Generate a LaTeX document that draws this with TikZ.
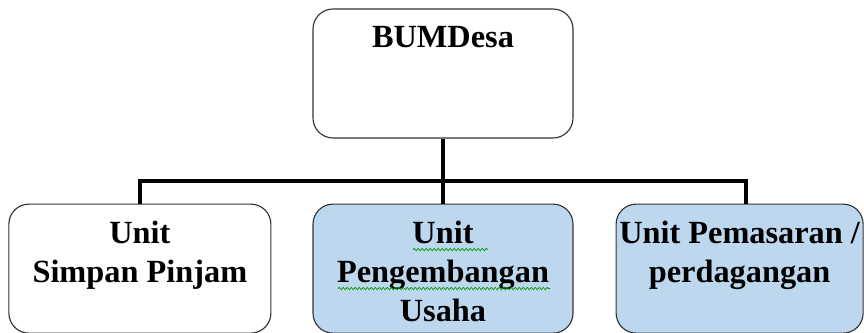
\documentclass[tikz,border=0pt]{standalone}
\usepackage{fontspec}
\setmainfont{Liberation Serif}
\usetikzlibrary{positioning,decorations.pathmorphing}
\definecolor{unitblue}{HTML}{BDD7EE}
\newcommand{\boxlines}[1]{\parbox[c][2.375cm][t]{6.15cm}{\centering #1}}

\begin{document}
\begin{tikzpicture}[node distance= 1.625cm and 1.025cm]
      \useasboundingbox (0,0) rectangle (21.6,-8.325);
      \begin{scope}[every node/.style={draw= black!80, line width= 0.8pt,
          rounded corners= 0.5cm, fill= white, inner sep= 0pt,
          minimum height= 3.225cm, font= \fontsize{23}{27.7}\selectfont\bfseries}]
        \node (bumdes) [minimum width= 6.5cm] at (11.075,-1.8375) {\boxlines{BUMDesa}};
        \node (usaha) [minimum width= 6.5cm, fill= unitblue, below= of bumdes] {\boxlines{Unit\\Pengembangan\\Usaha}};
        \node (simpan) [minimum width= 6.55cm, left= of usaha] {\boxlines{Unit\\Simpan Pinjam}};
        \node (dagang) [minimum width= 6.175cm, fill= unitblue, right= 1.05cm of usaha] {\boxlines{Unit Pemasaran /\\perdagangan}};
      \end{scope}
      \begin{scope}[every path/.style={draw= black, line width= 2.8pt}]
        \path (bumdes.south) ++(0,-1.05) coordinate (fork);
        \path (bumdes.south) -- (fork) -- (usaha.north);
        \path (simpan.north) |- (fork) -| ([xshift= 0.16cm]dagang.north);
      \end{scope}
      \begin{scope}[every path/.style={draw= green!60!black, line width= 0.5pt,
          decorate, decoration={snake, segment length= 0.1cm, amplitude= 0.03cm}}]
        \path ([xshift= -0.75cm, yshift= -1.15cm]usaha.north) -- ++(1.875,0);
        \path ([xshift= -2.625cm, yshift= -2.125cm]usaha.north) -- ++(5.3,0);
      \end{scope}
    \end{tikzpicture}
\end{document}
